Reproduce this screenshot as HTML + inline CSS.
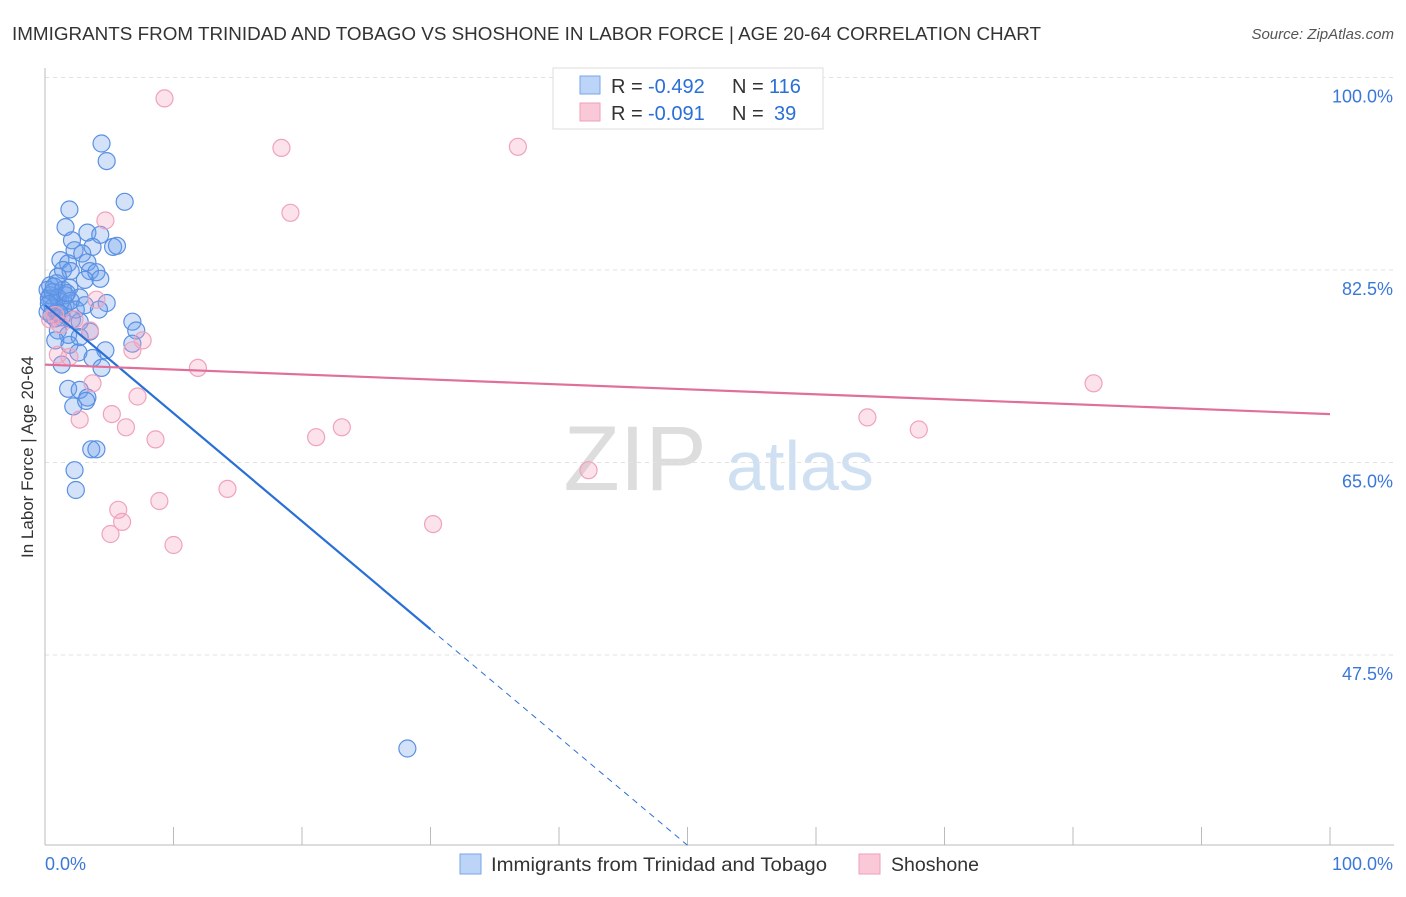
<!DOCTYPE html>
<html><head><meta charset="utf-8"><style>
body{margin:0;background:#fff;font-family:"Liberation Sans",sans-serif;}
svg text{font-family:"Liberation Sans",sans-serif;}
</style></head><body>
<svg id="chart" width="1406" height="892" xmlns="http://www.w3.org/2000/svg">
<text x="12" y="40" font-size="18" fill="#333" textLength="1029" lengthAdjust="spacingAndGlyphs">IMMIGRANTS FROM TRINIDAD AND TOBAGO VS SHOSHONE IN LABOR FORCE | AGE 20-64 CORRELATION CHART</text>
<text x="1394" y="39" font-size="15" fill="#555" font-style="italic" text-anchor="end">Source: ZipAtlas.com</text>
<text transform="translate(33,457) rotate(-90)" font-size="17" fill="#333" text-anchor="middle">In Labor Force | Age 20-64</text>
<g>
<text x="635" y="490" font-size="92" fill="#ddd" font-family="Liberation Serif" text-anchor="middle">ZIP</text>
<text x="800" y="490" font-size="70" fill="#cfe0f3" text-anchor="middle">atlas</text>
</g>
<g id="grid"></g><g id="axes"></g><g id="pts"></g><g id="lines"></g>
<g>
<rect x="553" y="68" width="270" height="61" fill="#fff" stroke="#ddd"/>
<rect x="580" y="76" width="20" height="18" fill="#bcd4f7" stroke="#7aa6e6"/>
<text x="611" y="93" font-size="20" fill="#333">R =</text>
<text x="648" y="93" font-size="20" fill="#2a6fd6">-0.492</text>
<text x="732" y="93" font-size="20" fill="#333">N =</text>
<text x="769" y="93" font-size="20" fill="#2a6fd6">116</text>
<rect x="580" y="103" width="20" height="18" fill="#f9c9d8" stroke="#ef9fba"/>
<text x="611" y="120" font-size="20" fill="#333">R =</text>
<text x="648" y="120" font-size="20" fill="#2a6fd6">-0.091</text>
<text x="732" y="120" font-size="20" fill="#333">N =</text>
<text x="774" y="120" font-size="20" fill="#2a6fd6">39</text>
</g>
<g>
<rect x="460" y="854" width="21" height="20" fill="#bcd4f7" stroke="#7aa6e6"/>
<text x="491" y="871" font-size="19.5" fill="#333" textLength="336" lengthAdjust="spacingAndGlyphs">Immigrants from Trinidad and Tobago</text>
<rect x="859" y="854" width="21" height="20" fill="#f9c9d8" stroke="#ef9fba"/>
<text x="891" y="871" font-size="19.5" fill="#333" textLength="88" lengthAdjust="spacingAndGlyphs">Shoshone</text>
</g>
</svg>
<script>
const blueX=[4.4,4.8,6.2,1.9,1.6,2.1,3.3,4.3,5.3,5.6,3.7,2.3,2.9,1.2,1.8,3.3,1.4,2.0,3.5,4.0,1.0,3.1,4.3,0.4,0.9,1.4,1.9,2.7,4.8,0.5,1.2,1.6,2.4,3.1,4.2,0.2,0.8,1.3,2.1,2.7,6.8,7.1,1.0,1.8,2.7,3.5,0.8,1.9,2.6,4.7,6.8,1.3,3.7,4.4,1.8,2.7,3.3,2.2,3.2,3.6,4.0,2.3,2.4,28.2,0.4,0.6,1.6,0.9,0.2,0.3,0.6,1.0,0.5,1.4,0.7,1.1,0.3,2.0,1.7];
const blueY=[94.0,92.4,88.7,88.0,86.4,85.2,85.9,85.7,84.6,84.7,84.6,84.3,84.0,83.4,83.1,83.2,82.5,82.4,82.4,82.3,81.9,81.6,81.7,81.1,81.3,80.7,80.9,80.0,79.5,79.8,79.6,79.3,78.9,79.3,78.9,78.7,78.1,78.2,78.0,77.8,77.8,77.0,77.0,76.6,76.4,76.9,76.1,75.7,75.0,75.2,75.8,73.9,74.5,73.6,71.7,71.6,70.9,70.1,70.6,66.2,66.2,64.3,62.5,39.0,80.2,79.1,80.2,78.7,80.7,79.9,80.5,80.0,78.4,79.0,81.0,78.6,79.4,79.7,80.4];
const pinkX=[9.3,18.4,36.8,19.1,4.7,4.0,3.5,2.3,1.2,0.8,7.6,6.8,1.9,3.7,11.9,7.2,5.2,2.7,6.3,8.6,21.1,23.1,81.6,64.0,68.0,42.3,14.2,8.9,5.7,6.0,5.1,10.0,30.2,0.4,1.0];
const pinkY=[98.1,93.6,93.7,87.7,87.0,79.8,77.0,78.0,77.5,78.4,76.1,75.2,74.6,72.2,73.6,71.0,69.4,68.9,68.2,67.1,67.3,68.2,72.2,69.1,68.0,64.3,62.6,61.5,60.7,59.6,58.5,57.5,59.4,78.0,74.8];
const yTicks=[100,82.5,65,47.5];
const yTickLabels=["100.0%","82.5%","65.0%","47.5%"];
const blueTrend=[79.3,-0.982]; const blueSolidEnd=30;
const pinkTrend=[73.9,-0.045];
const NS="http://www.w3.org/2000/svg";
const X=v=>45+v*12.85, Y=v=>77.5+(100-v)*11;
function mk(tag,a,parent){const e=document.createElementNS(NS,tag);for(const k in a)e.setAttribute(k,a[k]);document.getElementById(parent).appendChild(e);return e;}
yTicks.forEach((t,i)=>{
 const g=mk('line',{x1:45,x2:1394,y1:Y(t),y2:Y(t),stroke:'#e2e2e2','stroke-dasharray':'4,4'},'grid');
 
 
 const l=mk('text',{x:1393,y:Y(t)+25,'font-size':18,fill:'#3a78d8','text-anchor':'end'},'axes');l.textContent=yTickLabels[i];
 
 
});
const ax=mk('line',{x1:45,x2:45,y1:68,y2:845,stroke:'#bbb'},'axes');


const bx=mk('line',{x1:45,x2:1394,y1:845,y2:845,stroke:'#bbb'},'axes');


for(let i=0;i<=10;i++){const t=mk('line',{x1:X(i*10),x2:X(i*10),y1:827,y2:845,stroke:'#bbb'},'axes');
 
 }
[["0.0%",45,"start"],["100.0%",1393,"end"]].forEach(a=>{const t=mk('text',{x:a[1],y:870,'font-size':18,fill:'#3a78d8','text-anchor':a[2]},'axes');t.textContent=a[0];
 
 });
blueX.forEach((v,i)=>{const c=mk('circle',{cx:X(v),cy:Y(blueY[i]),r:8.5,fill:'rgba(110,160,235,0.3)',stroke:'#5a90e2','stroke-width':1.2},'pts');
 
 });
pinkX.forEach((v,i)=>{const c=mk('circle',{cx:X(v),cy:Y(pinkY[i]),r:8.5,fill:'rgba(245,160,190,0.3)',stroke:'#f0a2bd','stroke-width':1.2},'pts');
 
 });
const bt=x=>blueTrend[0]+blueTrend[1]*x;
const xEnd=(bt(0)-30.2)/-blueTrend[1];
const l1=mk('line',{x1:X(0),y1:Y(bt(0)),x2:X(blueSolidEnd),y2:Y(bt(blueSolidEnd)),stroke:'#2a6fd6','stroke-width':2.2},'lines');


const l2=mk('line',{x1:X(blueSolidEnd),y1:Y(bt(blueSolidEnd)),x2:X(xEnd),y2:Y(bt(xEnd)),stroke:'#2a6fd6','stroke-width':1,'stroke-dasharray':'6,5'},'lines');


const pt=x=>pinkTrend[0]+pinkTrend[1]*x;
const l3=mk('line',{x1:X(0),y1:Y(pt(0)),x2:X(100),y2:Y(pt(100)),stroke:'#e0709a','stroke-width':2.2},'lines');


</script>
</body></html>
